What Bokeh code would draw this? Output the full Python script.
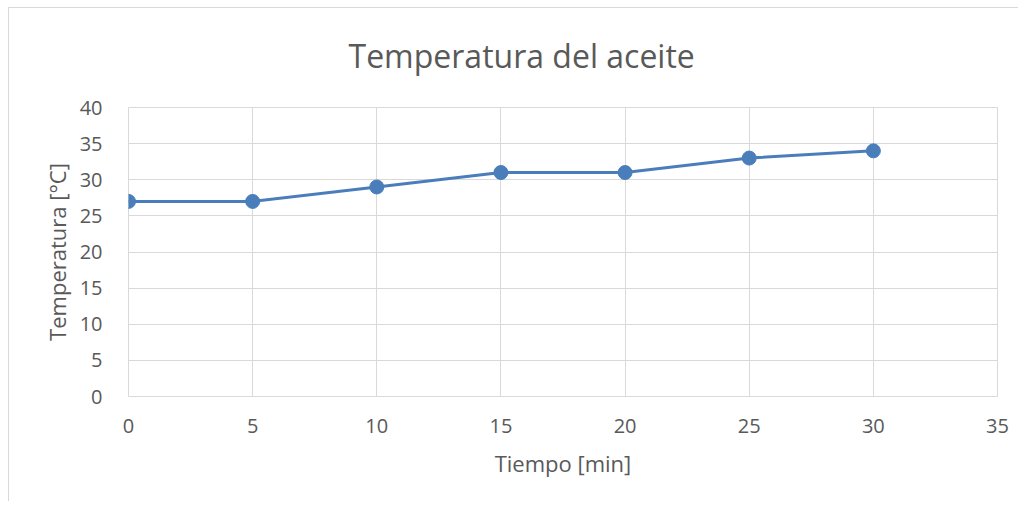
from bokeh.plotting import figure
from bokeh.embed import file_html
from bokeh.resources import INLINE
from bokeh.models import FixedTicker, Range1d

tiempo = [0, 5, 10, 15, 20, 25, 30]
temperatura = [27, 27, 29, 31, 31, 33, 34]
x_ticks = [0, 5, 10, 15, 20, 25, 30, 35]
y_ticks = [0, 5, 10, 15, 20, 25, 30, 35, 40]

FONT = "Open Sans"
TXT = "#595959"
GRID = "#d9d9d9"
BLUE = "#4a7ebb"

p = figure(width=1018, height=501, output_backend="svg", toolbar_location=None,
           x_range=Range1d(0, 35), y_range=Range1d(0, 40),
           min_border_left=128, min_border_right=21, min_border_top=107, min_border_bottom=105,
           title="Temperatura del aceite")
p.border_fill_color = None
p.background_fill_color = "white"
p.styles = {
    "background": "linear-gradient(#d9d9d9,#d9d9d9) 8px 7px / 1px 100% no-repeat, "
                  "linear-gradient(#d9d9d9,#d9d9d9) 8px 7px / 100% 1px no-repeat, white",
}

p.title.align = "left"
p.title.text_font = FONT
p.title.text_font_size = "32px"
p.title.text_font_style = "normal"
p.title.text_color = TXT
p.title.standoff = 62
p.title.offset = 220

p.outline_line_color = GRID
p.outline_line_width = 1
p.outline_line_alpha = 1

for ax in (p.xaxis[0], p.yaxis[0]):
    ax.axis_line_color = None
    ax.major_tick_line_color = None
    ax.minor_tick_line_color = None
    ax.major_label_text_font = FONT
    ax.major_label_text_font_size = "20px"
    ax.major_label_text_color = TXT
    ax.axis_label_text_font = FONT
    ax.axis_label_text_font_size = "22px"
    ax.axis_label_text_font_style = "normal"
    ax.axis_label_text_color = TXT

p.xaxis.ticker = FixedTicker(ticks=x_ticks)
p.yaxis.ticker = FixedTicker(ticks=y_ticks)
p.xaxis.axis_label = "Tiempo [min]"
p.yaxis.axis_label = "Temperatura [°C]"
p.xaxis.major_label_standoff = 16
p.yaxis.major_label_standoff = 20
p.xaxis.axis_label_standoff = 12
p.yaxis.axis_label_standoff = 5

p.xgrid.grid_line_color = GRID
p.ygrid.grid_line_color = GRID
p.xgrid.ticker = FixedTicker(ticks=x_ticks)
p.ygrid.ticker = FixedTicker(ticks=y_ticks)

p.line(tiempo, temperatura, line_color=BLUE, line_width=3)
p.scatter(tiempo, temperatura, size=14, fill_color=BLUE, line_color=BLUE)

open("out.html", "w").write(file_html(p, INLINE))
